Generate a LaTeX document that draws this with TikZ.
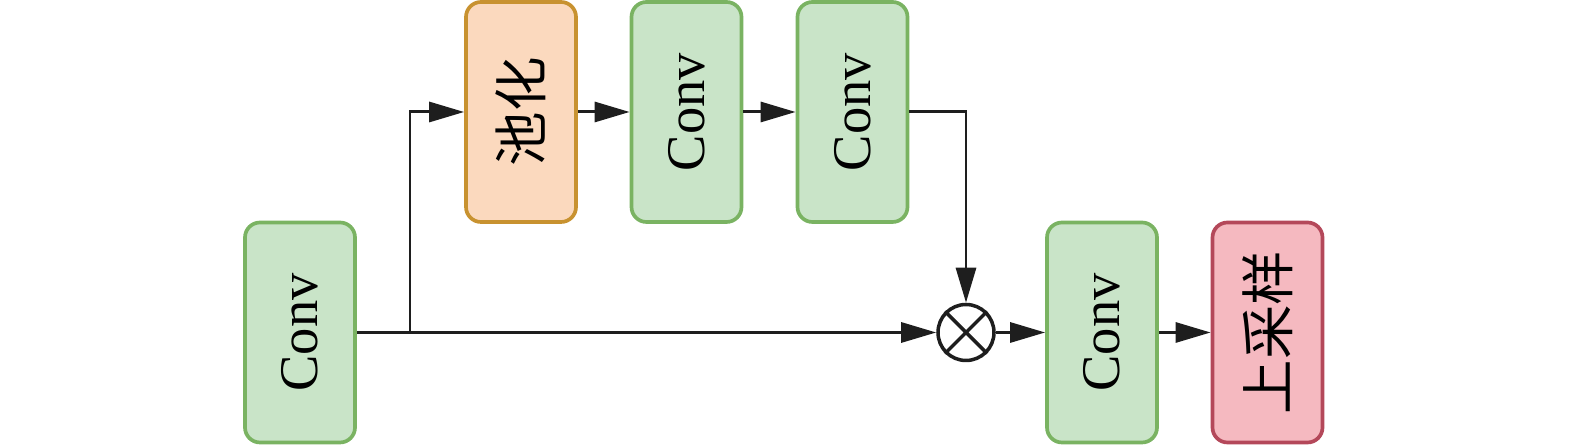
\documentclass[tikz,border=0pt]{standalone}
\usepackage{fontspec}
\setmainfont{Liberation Serif}
\newfontfamily\cjk{Noto Sans CJK SC}
\usetikzlibrary{arrows.meta}
\definecolor{convfill}{RGB}{201,228,200}
\definecolor{convdraw}{RGB}{122,179,98}
\definecolor{poolfill}{RGB}{251,217,190}
\definecolor{pooldraw}{RGB}{200,146,48}
\definecolor{upfill}{RGB}{245,185,192}
\definecolor{updraw}{RGB}{180,72,90}
\definecolor{ink}{RGB}{30,30,30}
\begin{document}
\begin{tikzpicture}[
		block/.style={draw, line width=1.05pt, rounded corners=0.15cm,
			minimum width=1.1cm, minimum height=2.2cm, inner sep=0pt,
			font=\fontsize{15.5}{18}\selectfont},
		convblock/.style={block, fill=convfill, draw=convdraw},
		poolblock/.style={block, fill=poolfill, draw=pooldraw},
		upblock/.style={block, fill=upfill, draw=updraw},
		flow/.style={draw=ink, line width=0.85pt,
			-{Triangle[length=0.35cm, width=0.2cm]}}
	]
			\useasboundingbox (0,0) rectangle (15.75,4.48);
			\node [convblock] (conv1) at (3.0,1.155) {\rotatebox{90}{Conv}};
			\node [poolblock] (pool) at (5.21,3.36) {\rotatebox{90}{\cjk 池化}};
			\node [convblock] (conv2) at (6.865,3.36) {\rotatebox{90}{Conv}};
			\node [convblock] (conv3) at (8.525,3.36) {\rotatebox{90}{Conv}};
			\node [draw=ink, line width=1pt, circle, minimum size=0.56cm,
				inner sep=0pt] (mul) at (9.66,1.155) {};
			\draw [ink, line width=1pt] (mul.north west) -- (mul.south east)
				(mul.north east) -- (mul.south west);
			\node [convblock] (conv4) at (11.02,1.155) {\rotatebox{90}{Conv}};
			\node [upblock] (up) at (12.675,1.155) {\rotatebox{90}{\cjk 上采样}};
			\coordinate (split) at (4.10,1.155);

			\draw [flow] (conv1.east) -- (mul.west);
			\draw [flow] (split) |- (pool.west);
			\draw [flow] (pool.east) -- (conv2.west);
			\draw [flow] (conv2.east) -- (conv3.west);
			\draw [flow] (conv3.east) -| (mul.north);
			\draw [flow] (mul.east) -- (conv4.west);
			\draw [flow] (conv4.east) -- (up.west);
		\end{tikzpicture}
\end{document}
